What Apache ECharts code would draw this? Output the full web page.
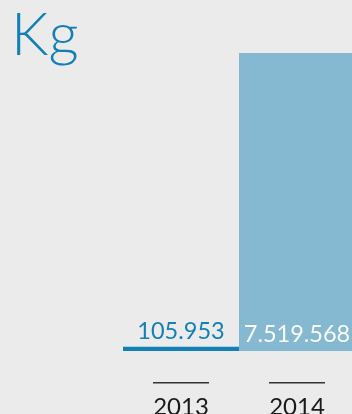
<!DOCTYPE html>
<html>
<head>
<meta charset="utf-8">
<style>
  html, body { margin: 0; padding: 0; background: #ebebeb; }
  #chart { width: 352px; height: 414px; }
</style>
<script src="https://cdn.jsdelivr.net/npm/echarts@6/dist/echarts.min.js"></script>
</head>
<body>
<div id="chart"></div>
<script>
// Annual quantities in kilograms
const years = ['2013', '2014'];
const kilograms = [105953, 7519568];
const barColors = ['#127fb6', '#85b9d2'];
const labelColors = ['#127fb6', '#ffffff'];

// Thousands separator with dots: 7519568 -> 7.519.568
function fmt(v) {
  return String(v).replace(/\B(?=(\d{3})+(?!\d))/g, '.');
}

const chart = echarts.init(document.getElementById('chart'), null, { renderer: 'canvas' });

chart.setOption({
  backgroundColor: '#ebebeb',
  animation: false,
  title: {
    text: 'Kg',
    left: 6,
    top: 1,
    textStyle: {
      fontFamily: 'Lato',
      fontWeight: 300,
      fontSize: 59,
      color: '#127fb6'
    }
  },
  grid: { left: 123, right: -3, top: 53, bottom: 63, outerBoundsMode: 'none', containLabel: false },
  xAxis: {
    type: 'category',
    data: years,
    axisLine: { show: false },
    axisTick: { show: false },
    axisLabel: {
      margin: 31,
      formatter: function (v) { return '{l| }\n{y|' + v + '}'; },
      rich: {
        l: { width: 56, height: 1.5, lineHeight: 1.5, backgroundColor: '#333333', fontSize: 1 },
        y: { fontFamily: 'Lato', fontSize: 24, lineHeight: 48, color: '#1a1a1a' }
      }
    }
  },
  yAxis: {
    type: 'value',
    min: 0,
    max: 'dataMax',
    show: false
  },
  series: [{
    type: 'bar',
    barCategoryGap: 0,
    data: kilograms.map(function (v, i) {
      return {
        value: v,
        itemStyle: { color: barColors[i] },
        label: {
          show: true,
          position: i === 0 ? 'top' : 'insideBottom',
          distance: i === 0 ? 3 : 5,
          color: labelColors[i],
          fontFamily: 'Lato',
          fontSize: 23.5,
          formatter: function (p) { return fmt(p.value); }
        }
      };
    })
  }]
});
</script>
</body>
</html>
